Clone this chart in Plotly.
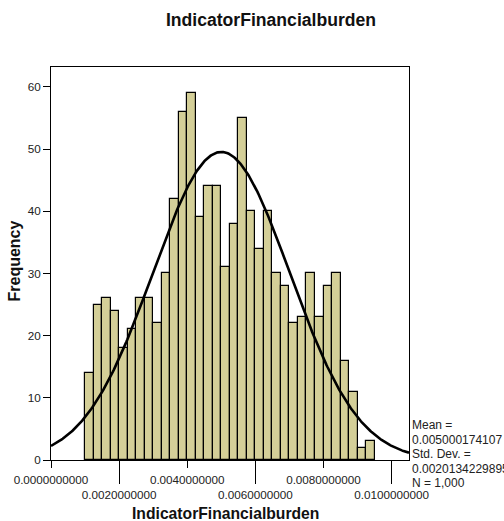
import numpy as np
import plotly.graph_objects as go

# ---- data ----
title_text = "IndicatorFinancialburden"
counts = [14, 25, 26, 24, 18, 21, 26, 26, 22, 30, 42, 56, 59, 39, 44, 44, 31,
          38, 55, 40, 34, 40, 30, 28, 22, 23, 30, 23, 28, 30, 16, 11, 2, 3]
bin_start = 0.001
bin_width = 0.00025
mean_val = 0.005000174107
std_val = 0.0020134229895
n_val = 1000
x_ticks_row1 = [0.0, 0.004, 0.008]
x_ticks_row2 = [0.002, 0.006, 0.010]
y_ticks = [0, 10, 20, 30, 40, 50, 60]

x_range = [0.0, 0.01051]
y_range = [0, 63.2]

centers = [bin_start + bin_width * (i + 0.5) for i in range(len(counts))]

xc = np.linspace(x_range[0], x_range[1], 400)
yc = n_val * bin_width / (std_val * np.sqrt(2 * np.pi)) * np.exp(-0.5 * ((xc - mean_val) / std_val) ** 2)

FONT = "Liberation Sans, Arial, sans-serif"
TICK = 11.7

fig = go.Figure()
fig.add_trace(go.Bar(x=centers, y=counts, width=bin_width,
                     marker=dict(color="#d4cf98", line=dict(color="black", width=1.2)),
                     showlegend=False, hoverinfo="x+y"))
fig.add_trace(go.Scatter(x=xc, y=yc, mode="lines", line=dict(color="black", width=2.6),
                         showlegend=False, hoverinfo="skip", cliponaxis=True))
# invisible trace for second x axis (long ticks row)
fig.add_trace(go.Scatter(x=[x_range[0]], y=[0], xaxis="x2", mode="markers",
                         marker=dict(opacity=0), showlegend=False, hoverinfo="skip"))

fig.update_layout(
    width=504, height=521,
    margin=dict(l=51, r=95, t=67, b=61, autoexpand=False),
    paper_bgcolor="white", plot_bgcolor="white",
    bargap=0,
    font=dict(family=FONT, color="#222222"),
    title=dict(text="<b>" + title_text + "</b>", x=271 / 504, xref="container", xanchor="center",
               y=1 - 20 / 521, yref="container", yanchor="middle",
               font=dict(size=17.6, color="#111111", family=FONT)),
    xaxis=dict(range=x_range, tickvals=x_ticks_row1, ticktext=["%.10f" % v for v in x_ticks_row1],
               ticks="outside", ticklen=7, tickwidth=1, tickcolor="black",
               showline=True, linecolor="black", linewidth=1, mirror=True,
               showgrid=False, zeroline=False, automargin=False,
               tickfont=dict(size=TICK, color="#222222"), ticklabelstandoff=2),
    xaxis2=dict(range=x_range, overlaying="x", anchor="y", side="bottom",
                tickvals=x_ticks_row2, ticktext=["%.10f" % v for v in x_ticks_row2],
                ticks="outside", ticklen=23, tickwidth=1, tickcolor="black",
                showline=False, showgrid=False, zeroline=False, automargin=False,
                tickfont=dict(size=TICK, color="#222222"), ticklabelstandoff=1),
    yaxis=dict(range=y_range, tickvals=y_ticks, ticks="outside", ticklen=7, tickwidth=1,
               tickcolor="black", showline=True, linecolor="black", linewidth=1, mirror=True,
               showgrid=False, zeroline=False, automargin=False,
               tickfont=dict(size=TICK, color="#222222")),
)

fig.add_annotation(text="<b>IndicatorFinancialburden</b>", xref="paper", yref="paper",
                   x=(225 - 51) / 358, y=-(513 - 460) / 393, xanchor="center", yanchor="middle",
                   showarrow=False, font=dict(size=15.7, color="#111111", family=FONT))
fig.add_annotation(text="<b>Frequency</b>", xref="paper", yref="paper",
                   x=-(51 - 14) / 358, y=(460 - 261.5) / 393, xanchor="center", yanchor="middle",
                   textangle=-90, showarrow=False,
                   font=dict(size=16, color="#111111", family=FONT))

stats_lines = ["Mean =", "%.12f" % mean_val, "Std. Dev. =", "%.13f" % std_val, "N = {:,}".format(n_val)]
for i, s in enumerate(stats_lines):
    ypix = 425 + i * 14.5
    fig.add_annotation(text=s, xref="paper", yref="paper", x=1, xshift=1,
                       y=(460 - ypix) / 393, xanchor="left", yanchor="middle", align="left",
                       showarrow=False, font=dict(size=12, color="#222222", family=FONT))

fig.write_html("out.html", config={"displayModeBar": False},
               post_script="document.body.style.margin='0px';document.body.style.overflow='hidden';")
